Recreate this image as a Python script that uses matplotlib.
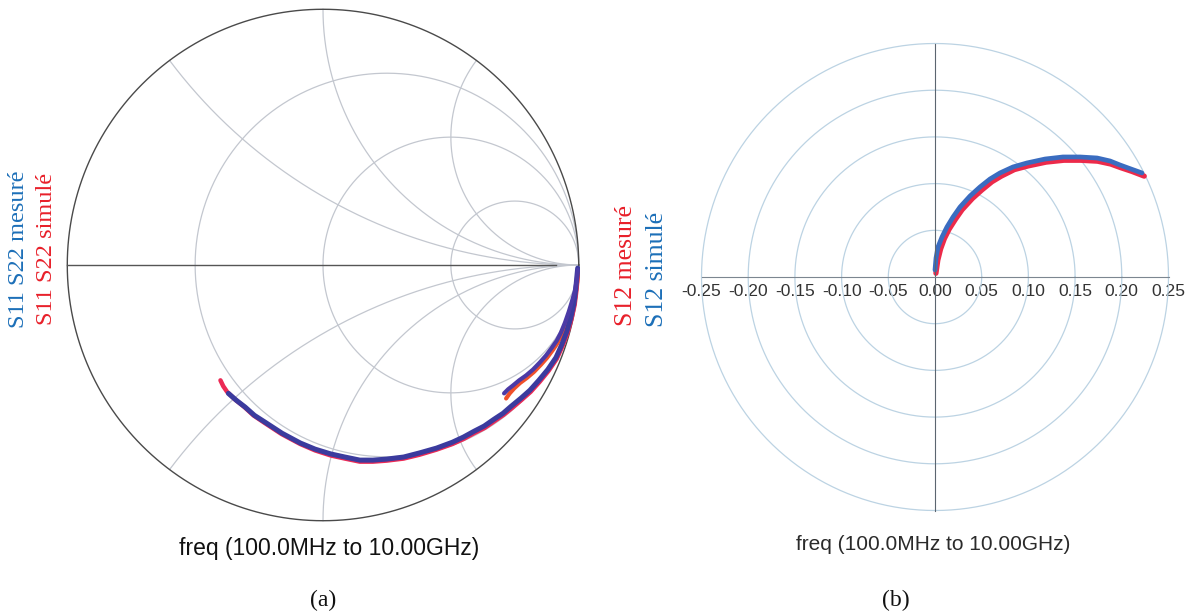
import numpy as np
import matplotlib
matplotlib.use("Agg")
import matplotlib.pyplot as plt

plt.rcParams['font.family'] = ['Liberation Sans', 'DejaVu Sans']

# Smith chart (a): reflection coefficient, real / imaginary parts
s11_meas_re = [0.996, 0.992, 0.988, 0.981, 0.969, 0.953, 0.934, 0.911, 0.879, 0.844,
               0.809, 0.774, 0.735, 0.704, 0.669, 0.630, 0.591, 0.549, 0.506, 0.444,
               0.377, 0.315, 0.249, 0.195, 0.144, 0.086, 0.031, -0.031, -0.089, -0.160,
               -0.226, -0.268, -0.304, -0.339, -0.370]
s11_meas_im = [-0.012, -0.054, -0.097, -0.152, -0.206, -0.261, -0.311, -0.362, -0.409, -0.451,
               -0.490, -0.521, -0.553, -0.580, -0.603, -0.630, -0.650, -0.673, -0.693, -0.716,
               -0.735, -0.751, -0.759, -0.763, -0.763, -0.751, -0.739, -0.720, -0.696, -0.658,
               -0.615, -0.588, -0.556, -0.529, -0.502]
s11_sim_re = [0.998, 0.995, 0.991, 0.984, 0.972, 0.956, 0.937, 0.914, 0.882, 0.847,
              0.812, 0.777, 0.738, 0.706, 0.671, 0.632, 0.592, 0.550, 0.506, 0.444,
              0.377, 0.315, 0.249, 0.195, 0.144, 0.086, 0.031, -0.031, -0.089, -0.162,
              -0.229, -0.272, -0.309, -0.345, -0.375, -0.390, -0.401]
s11_sim_im = [-0.015, -0.057, -0.100, -0.156, -0.210, -0.266, -0.316, -0.367, -0.414, -0.457,
              -0.496, -0.527, -0.560, -0.586, -0.610, -0.637, -0.657, -0.680, -0.700, -0.722,
              -0.742, -0.757, -0.765, -0.769, -0.769, -0.757, -0.745, -0.725, -0.700, -0.661,
              -0.617, -0.588, -0.554, -0.525, -0.496, -0.474, -0.451]
s22_meas_re = [0.996, 0.992, 0.984, 0.973, 0.961, 0.946, 0.930, 0.914, 0.895, 0.872,
               0.848, 0.821, 0.794, 0.767, 0.743, 0.724, 0.708]
s22_meas_im = [-0.019, -0.062, -0.105, -0.144, -0.183, -0.226, -0.265, -0.296, -0.323, -0.354,
               -0.381, -0.409, -0.432, -0.451, -0.471, -0.486, -0.502]
s22_sim_re = [0.997, 0.994, 0.986, 0.976, 0.964, 0.950, 0.934, 0.918, 0.899, 0.876,
              0.852, 0.825, 0.798, 0.771, 0.748, 0.730, 0.716]
s22_sim_im = [-0.022, -0.066, -0.110, -0.150, -0.190, -0.233, -0.272, -0.304, -0.332, -0.363,
              -0.390, -0.418, -0.441, -0.461, -0.482, -0.502, -0.522]

# polar plot (b): S12 real / imaginary parts
s12_meas_re = [0.001, 0.003, 0.006, 0.010, 0.015, 0.022, 0.029, 0.040, 0.050, 0.061,
               0.071, 0.085, 0.100, 0.119, 0.138, 0.156, 0.174, 0.188, 0.199, 0.211, 0.224]
s12_meas_im = [0.004, 0.018, 0.030, 0.041, 0.051, 0.062, 0.072, 0.084, 0.093, 0.102,
               0.108, 0.115, 0.119, 0.123, 0.125, 0.125, 0.124, 0.121, 0.117, 0.113, 0.108]
s12_sim_re = [0.000, 0.0011, 0.0032, 0.0075, 0.0128, 0.0193, 0.0268, 0.0375, 0.0482, 0.0589,
              0.0696, 0.0835, 0.0985, 0.1178, 0.1370, 0.1553, 0.1735, 0.1874, 0.1981, 0.2099, 0.2216]
s12_sim_im = [0.0075, 0.0203, 0.0321, 0.0428, 0.0535, 0.0642, 0.0749, 0.0867, 0.0964, 0.1049,
              0.1114, 0.1178, 0.1221, 0.1263, 0.1285, 0.1285, 0.1274, 0.1242, 0.1199, 0.1156, 0.1114]

r_circles = [1 / 3, 1, 3]
x_arcs = [0.5, 1, 2]
ring_radii = [0.05, 0.10, 0.15, 0.20, 0.25]
polar_ticks = [-0.25, -0.20, -0.15, -0.10, -0.05, 0.0, 0.05, 0.10, 0.15, 0.20, 0.25]
polar_ticklabels = ['%.2f' % t for t in polar_ticks]

GRID = '#c3c7cf'
W, H = 1191, 613

fig = plt.figure(figsize=(W / 100, H / 100), dpi=100)

# ---- (a) Smith chart ----
ax1 = fig.add_axes([66 / W, (H - 522) / H, 514 / W, 514 / H])
ax1.set_xlim(-1.005, 1.005)
ax1.set_ylim(-1.005, 1.005)
ax1.set_aspect('equal')
ax1.axis('off')

t = np.sinh(np.linspace(-10, 10, 4001))
for r in r_circles:
    g = (r + 1j * t - 1) / (r + 1j * t + 1)
    ax1.plot(g.real, g.imag, color=GRID, lw=0.9)
rr = np.concatenate([np.linspace(0, 5, 2000), np.logspace(0.7, 3, 1000)])
for x in x_arcs:
    for s in (1, -1):
        g = (rr + 1j * s * x - 1) / (rr + 1j * s * x + 1)
        ax1.plot(g.real, g.imag, color=GRID, lw=0.9)

th = np.linspace(0, 2 * np.pi, 721)
ax1.plot(np.cos(th), np.sin(th), color='#4a4a4a', lw=1.0)
ax1.plot([-1, 0.91], [0, 0], color='#555555', lw=1.0)

line_kw = dict(solid_capstyle='round', solid_joinstyle='round')
ax1.plot(s11_sim_re, s11_sim_im, color='#ec2a55', lw=3.2, **line_kw)
ax1.plot(s22_sim_re, s22_sim_im, color='#f0502a', lw=3.0, **line_kw)
ax1.plot(s11_meas_re, s11_meas_im, color='#3b3b9e', lw=3.6, **line_kw)
ax1.plot(s22_meas_re, s22_meas_im, color='#4b3aa6', lw=3.0, **line_kw)

fig.text(19 / W, 1 - 249 / H, 'S11 S22 mesuré', color='#1c6fb8', rotation=90,
         ha='center', va='center', fontsize=17.5, family='Liberation Serif')
fig.text(47 / W, 1 - 249 / H, 'S11 S22 simulé', color='#e8202a', rotation=90,
         ha='center', va='center', fontsize=17.5, family='Liberation Serif')
fig.text(329 / W, 1 - 549 / H, 'freq (100.0MHz to 10.00GHz)', color='#111111',
         ha='center', va='center', fontsize=16.5)
fig.text(323 / W, 1 - 600 / H, '(a)', color='#111111', ha='center', va='center',
         fontsize=17, family='Liberation Serif')

# ---- (b) polar plot ----
ax2 = fig.add_axes([701.5 / W, (H - 510.5) / H, 467 / W, 467 / H])
ax2.set_xlim(-0.25, 0.25)
ax2.set_ylim(-0.25, 0.25)
ax2.set_aspect('equal')
for rad in ring_radii:
    ax2.plot(rad * np.cos(th), rad * np.sin(th), color='#bcd3e3', lw=0.9, clip_on=False)

for side in ('top', 'right'):
    ax2.spines[side].set_visible(False)
ax2.spines['bottom'].set_position('zero')
ax2.spines['left'].set_position('zero')
ax2.spines['bottom'].set_color('#7c8690')
ax2.spines['left'].set_color('#5c6670')
ax2.set_xticks(polar_ticks)
ax2.set_xticklabels(polar_ticklabels)
ax2.tick_params(axis='x', length=0, pad=5, labelsize=12.6, labelcolor='#333333')
ax2.set_yticks([])
ax2.patch.set_alpha(0)

ax2.plot(s12_meas_re, s12_meas_im, color='#ec2a4a', lw=3.8, **line_kw)
ax2.plot(s12_sim_re, s12_sim_im, color='#3a6cc0', lw=3.4, **line_kw)

fig.text(626 / W, 1 - 266 / H, 'S12 mesuré', color='#e8202a', rotation=90,
         ha='center', va='center', fontsize=18.5, family='Liberation Serif')
fig.text(657 / W, 1 - 269 / H, 'S12 simulé', color='#1c6fb8', rotation=90,
         ha='center', va='center', fontsize=18.5, family='Liberation Serif')
fig.text(933 / W, 1 - 544 / H, 'freq (100.0MHz to 10.00GHz)', color='#2a2a2a',
         ha='center', va='center', fontsize=15)
fig.text(896 / W, 1 - 600 / H, '(b)', color='#111111', ha='center', va='center',
         fontsize=17, family='Liberation Serif')

fig.savefig('out.png', dpi=100)
